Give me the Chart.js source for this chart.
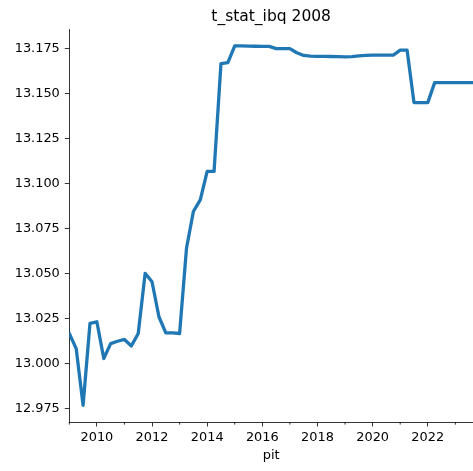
<!DOCTYPE html>
<html>
<head>
<meta charset="utf-8">
<script src="https://cdn.jsdelivr.net/npm/chart.js@4.4.1/dist/chart.umd.min.js"></script>
<style>
  html, body { margin: 0; padding: 0; background: #fff; }
  #wrap { width: 473px; height: 471px; }
</style>
</head>
<body>
<div id="wrap"><canvas id="myChart" width="473" height="471"></canvas></div>
<script>
// quarterly points in time (decimal years)
const pit = [
  2009.00, 2009.25, 2009.50, 2009.75,
  2010.00, 2010.25, 2010.50, 2010.75,
  2011.00, 2011.25, 2011.50, 2011.75,
  2012.00, 2012.25, 2012.50, 2012.75,
  2013.00, 2013.25, 2013.50, 2013.75,
  2014.00, 2014.25, 2014.50, 2014.75,
  2015.00, 2015.25, 2015.50, 2015.75,
  2016.00, 2016.25, 2016.50, 2016.75,
  2017.00, 2017.25, 2017.50, 2017.75,
  2018.00, 2018.25, 2018.50, 2018.75,
  2019.00, 2019.25, 2019.50, 2019.75,
  2020.00, 2020.25, 2020.50, 2020.75,
  2021.00, 2021.25, 2021.50, 2021.75,
  2022.00, 2022.25, 2022.50, 2022.75,
  2023.00, 2023.25, 2023.50, 2023.75
];
const tStat = [
  13.0167, 13.0083, 12.9768, 13.0223,
  13.0232, 13.0028, 13.0111, 13.0124,
  13.0134, 13.0098, 13.0167, 13.0501,
  13.0454, 13.0260, 13.0170, 13.0170,
  13.0167, 13.0640, 13.0844, 13.0909,
  13.1067, 13.1067, 13.1665, 13.1670,
  13.1763, 13.1763, 13.1762, 13.1761,
  13.1760, 13.1760, 13.1748, 13.1748,
  13.1748, 13.1725, 13.1710, 13.1706,
  13.1705, 13.1705, 13.1704, 13.1703,
  13.1702, 13.1703, 13.1708, 13.1710,
  13.1712, 13.1712, 13.1712, 13.1712,
  13.1739, 13.1739, 13.1448, 13.1448,
  13.1448, 13.1559, 13.1559, 13.1559,
  13.1559, 13.1559, 13.1559, 13.1559
];
const yTicks = [12.975, 13.000, 13.025, 13.050, 13.075, 13.100, 13.125, 13.150, 13.175];
const xMajor = [2010, 2012, 2014, 2016, 2018, 2020, 2022];
const xMinor = [2009, 2011, 2013, 2015, 2017, 2019, 2021, 2023];

const FONT = "DejaVu Sans";
const INK = "#000000";

// short minor ticks on the x axis, like matplotlib
const minorTicks = {
  id: "minorTicks",
  afterDraw(chart) {
    const { ctx, scales: { x } } = chart;
    ctx.save();
    ctx.strokeStyle = INK;
    ctx.lineWidth = 0.8;
    xMinor.forEach((v) => {
      const px = x.getPixelForValue(v);
      ctx.beginPath();
      ctx.moveTo(px, x.top);
      ctx.lineTo(px, x.top + 2.6);
      ctx.stroke();
    });
    ctx.restore();
  },
};

const ctx = document.getElementById("myChart");
new Chart(ctx, {
  type: "line",
  data: {
    datasets: [
      {
        data: pit.map((p, i) => ({ x: p, y: tStat[i] })),
        borderColor: "#1f77b4",
        borderWidth: 3.3,
        borderJoinStyle: "round",
        borderCapStyle: "square",
        pointRadius: 0,
        tension: 0,
        fill: false,
      },
    ],
  },
  options: {
    responsive: false,
    animation: false,
    maintainAspectRatio: false,
    layout: { padding: { left: 0, right: 0, top: 0, bottom: 0 } },
    plugins: {
      legend: { display: false },
      tooltip: { enabled: false },
      title: {
        display: true,
        text: "t_stat_ibq 2008",
        color: INK,
        fullSize: false,
        font: { family: FONT, size: 15.5, weight: "normal" },
        padding: { top: 7.6, bottom: 3.1 },
      },
    },
    scales: {
      x: {
        type: "linear",
        min: 2009,
        max: 2023.64,
        afterBuildTicks: (s) => {
          s.ticks = xMajor.map((v) => ({ value: v }));
        },
        afterFit: (s) => {
          s.height = 49;
        },
        ticks: {
          color: INK,
          font: { family: FONT, size: 12.9 },
          padding: 3,
          maxRotation: 0,
          autoSkip: false,
          callback: (v) => String(v),
        },
        grid: {
          display: true,
          drawOnChartArea: false,
          drawTicks: true,
          tickLength: 4.5,
          tickColor: INK,
          tickWidth: 0.8,
        },
        border: { display: true, color: INK, width: 0.8 },
        title: {
          display: true,
          text: "pit",
          color: INK,
          font: { family: FONT, size: 12.9 },
          padding: { top: 0, bottom: 8 },
        },
      },
      y: {
        type: "linear",
        min: 12.9676,
        max: 13.1855,
        afterBuildTicks: (s) => {
          s.ticks = yTicks.map((v) => ({ value: v }));
        },
        afterFit: (s) => {
          s.width = 69.3;
        },
        ticks: {
          color: INK,
          font: { family: FONT, size: 12.9 },
          padding: 5,
          callback: (v) => v.toFixed(3),
        },
        grid: {
          display: true,
          drawOnChartArea: false,
          drawTicks: true,
          tickLength: 4.5,
          tickColor: INK,
          tickWidth: 0.8,
        },
        border: { display: true, color: INK, width: 0.8 },
      },
    },
  },
  plugins: [minorTicks],
});
</script>
</body>
</html>
